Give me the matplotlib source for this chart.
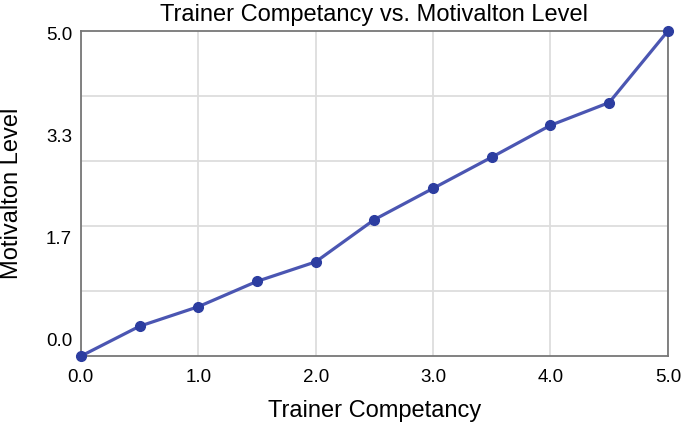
import matplotlib
matplotlib.use('Agg')
import matplotlib.pyplot as plt

plt.rcParams['font.family'] = ['Liberation Sans', 'DejaVu Sans']

# data
competency = [0.0, 0.5, 1.0, 1.5, 2.0, 2.5, 3.0, 3.5, 4.0, 4.5, 5.0]
motivation = [0.0, 0.46, 0.76, 1.15, 1.45, 2.1, 2.58, 3.06, 3.55, 3.9, 5.0]

x_ticks = [0, 1, 2, 3, 4, 5]
x_labels = ['0.0', '1.0', '2.0', '3.0', '4.0', '5.0']
y_grid = [1, 2, 3, 4]
y_labels = ['0.0', '1.7', '3.3', '5.0']

fig = plt.figure(figsize=(6.85, 4.25), dpi=100)
ax = fig.add_axes([0.118, 0.162, 0.857, 0.765])

ax.plot(competency, motivation, color='#4b56b2', linewidth=2.3, zorder=3,
        clip_on=False)
ax.plot(competency, motivation, 'o', color='#2c3da0', markersize=7, zorder=4,
        clip_on=False)

ax.set_xlim(0, 5)
ax.set_ylim(0, 5)
ax.set_xticks(x_ticks)
ax.set_xticklabels(x_labels, fontsize=13.5)
ax.set_yticks(y_grid)
ax.set_yticklabels([])
ax.tick_params(length=0, pad=9)
ax.grid(True, color='#dddddd', linewidth=1.3)
ax.set_axisbelow(True)

# y labels sit evenly spaced, independent of the grid
for i, lab in enumerate(y_labels):
    ypix = 341 - i * 101.7
    yfrac = (356 - ypix) / 325.0
    ax.text(-0.015, yfrac, lab, transform=ax.transAxes, ha='right',
            va='center', fontsize=13.5)

for s in ax.spines.values():
    s.set_color('#777777')
    s.set_linewidth(1.3)

ax.set_title('Trainer Competancy vs. Motivalton Level', fontsize=17, pad=7)
ax.set_xlabel('Trainer Competancy', fontsize=17, labelpad=10)
ax.set_ylabel('Motivalton Level', fontsize=17)
ax.yaxis.set_label_coords(-0.098, 0.5)

fig.savefig('out.png', dpi=100)
